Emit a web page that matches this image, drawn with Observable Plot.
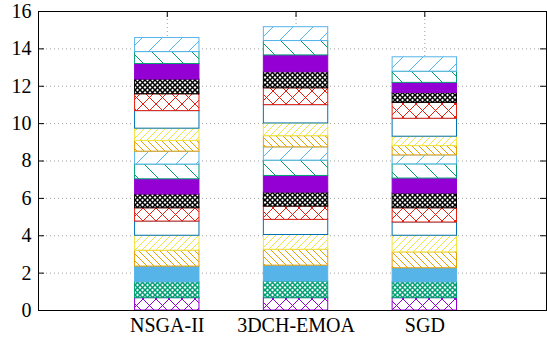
<!DOCTYPE html>
<html>
<head>
<meta charset="utf-8">
<script src="https://cdn.jsdelivr.net/npm/d3@7"></script>
<script src="https://cdn.jsdelivr.net/npm/@observablehq/plot@0.6"></script>
<style>
  html, body { margin: 0; padding: 0; background: white; }
</style>
</head>
<body>
<div id="chart"></div>
<script>
// ---- data ----
const methods = ["NSGA-II", "3DCH-EMOA", "SGD"];
// stacked segment heights, bottom to top (19 segments per bar)
const nsga2Values = [0.66, 0.85, 0.84, 0.85, 0.80, 0.76, 0.71, 0.74, 0.81, 0.79, 0.69, 0.57, 0.66, 0.94, 0.90, 0.79, 0.83, 0.64, 0.75];
const dchEmoaValues = [0.66, 0.89, 0.85, 0.85, 0.79, 0.81, 0.71, 0.75, 0.89, 0.82, 0.71, 0.60, 0.68, 0.98, 0.90, 0.86, 0.90, 0.77, 0.74];
const sgdValues = [0.66, 0.85, 0.75, 0.85, 0.89, 0.71, 0.76, 0.79, 0.80, 0.76, 0.48, 0.50, 0.50, 0.96, 0.85, 0.53, 0.54, 0.60, 0.77];
const yTicks = [0, 2, 4, 6, 8, 10, 12, 14, 16];

// ---- styles ----
const palette = ["#9400d3", "#009e73", "#56b4e9", "#e69f00", "#f0e442", "#0072b2", "#e51e10", "#000000"];
const patternKinds = ["cross", "dense", "solid", "bsDense", "fsDense", "empty",
                      "cross", "dense", "solid", "bsSparse", "fsSparse", "bsDense", "fsDense", "empty",
                      "cross", "dense", "solid", "bsSparse", "fsSparse"];
const serif = "Liberation Serif";

const series = [nsga2Values, dchEmoaValues, sgdValues];
const rows = [];
series.forEach((vals, j) => {
  let acc = 0;
  vals.forEach((v, i) => {
    rows.push({method: methods[j], xi: j, seg: i, y1: acc, y2: acc + v});
    acc += v;
  });
});
const barHalf = 0.25;
const nSeg = nsga2Values.length;

const W = 547, H = 340, mL = 38, mR = 1, mT = 11, mB = 30;
const innerW = W - mL - mR, innerH = H - mT - mB;
const gridStyle = {stroke: "#a0a0a0", strokeOpacity: 1, strokeDasharray: "1,3", strokeWidth: 1};

const segMarks = d3.range(nSeg).map(i =>
  Plot.rect(rows.filter(r => r.seg === i), {
    x1: r => r.xi - barHalf, x2: r => r.xi + barHalf, y1: "y1", y2: "y2",
    fill: `url(#pat${i})`, stroke: palette[i % palette.length], strokeWidth: 1
  })
);

const chart = Plot.plot({
  width: W, height: H,
  marginLeft: mL, marginRight: mR, marginTop: mT, marginBottom: mB,
  style: {fontFamily: serif, fontSize: "20px", background: "white", color: "black"},
  x: {type: "linear", domain: [-1, 2.945]},
  y: {domain: [0, 16]},
  marks: [
    Plot.gridY(yTicks.slice(1, -1), gridStyle),
    Plot.gridX([0, 1, 2], gridStyle),
    ...segMarks,
    Plot.frame({stroke: "black", strokeWidth: 1}),
    Plot.tickY(yTicks, {y: d => d, insetRight: innerW - 6, stroke: "black"}),
    Plot.tickY(yTicks, {y: d => d, insetLeft: innerW - 6, stroke: "black"}),
    Plot.tickX([0, 1, 2], {x: d => d, insetBottom: innerH - 6, stroke: "black"}),
    Plot.axisY(yTicks, {tickSize: 0, tickPadding: 7, fontSize: 20, fontFamily: serif, fill: "black"}),
    Plot.axisX([0, 1, 2], {tickSize: 0, tickPadding: 7, fontSize: 20, fontFamily: serif, fill: "black", tickFormat: i => methods[i]})
  ]
});

// ---- fill patterns ----
const svg = d3.select(chart);
const defs = svg.insert("defs", ":first-child");
patternKinds.forEach((kind, i) => {
  const c = palette[i % palette.length];
  let s = 8;
  if (kind === "cross") s = 13;
  else if (kind === "dense") s = 5;
  else if (kind === "bsDense" || kind === "fsDense") s = 7;
  else if (kind === "bsSparse" || kind === "fsSparse") s = 20;
  const p = defs.append("pattern").attr("id", `pat${i}`)
    .attr("patternUnits", "userSpaceOnUse").attr("width", s).attr("height", s);
  p.append("rect").attr("width", s).attr("height", s).attr("fill", kind === "solid" ? c : "white");
  const line = (x1, y1, x2, y2, w = 1) => p.append("line")
    .attr("x1", x1).attr("y1", y1).attr("x2", x2).attr("y2", y2)
    .attr("stroke", c).attr("stroke-width", w);
  if (kind === "cross" || kind === "dense") {
    const w = kind === "dense" ? 1.5 : 1;
    line(0, 0, s, s, w); line(0, s, s, 0, w);
  } else if (kind === "bsDense" || kind === "bsSparse") {
    line(0, 0, s, s); line(-2, s - 2, 2, s + 2); line(s - 2, -2, s + 2, 2);
  } else if (kind === "fsDense" || kind === "fsSparse") {
    line(0, s, s, 0); line(-2, 2, 2, -2); line(s - 2, s + 2, s + 2, s - 2);
  }
});

document.getElementById("chart").appendChild(chart);
</script>
</body>
</html>
